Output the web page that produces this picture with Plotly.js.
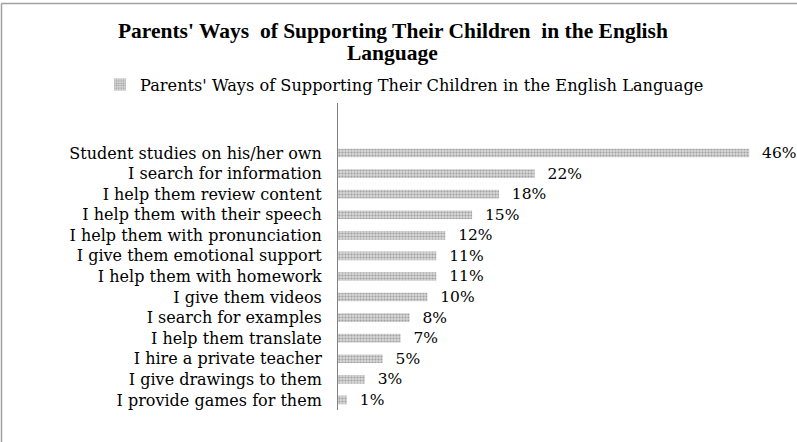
<!DOCTYPE html>
<html><head><meta charset="utf-8">
<script src="https://cdn.plot.ly/plotly-3.0.1.min.js"></script>
<style>html,body{margin:0;padding:0;background:#fff}#c{width:797px;height:442px}</style>
</head><body><div id="c"></div>
<script>
const categories = [
  "Student studies on his/her own",
  "I search for information",
  "I help them review content",
  "I help them with their speech",
  "I help them with pronunciation",
  "I give them emotional support",
  "I help them with homework",
  "I give them videos",
  "I search for examples",
  "I help them translate",
  "I hire a private teacher",
  "I give drawings to them",
  "I provide games for them"
];
const values = [46, 22, 18, 15, 12, 11, 11, 10, 8, 7, 5, 3, 1];
const seriesName = "Parents' Ways of Supporting Their Children in the English Language";
const titleLine1 = "Parents' Ways  of Supporting Their Children  in the English";
const titleLine2 = "Language";

const W = 797, H = 442;
const ml = 338, mr = 12, mt = 103, mb = 32;
const pw = W - ml - mr, ph = H - mt - mb;
const px = x => (x - ml) / pw;
const py = y => 1 - (y - mt) / ph;

const yCats = categories.slice().reverse();
const yVals = values.slice().reverse();
const serif = 'DejaVu Serif';

const trace = {
  type: 'bar', orientation: 'h',
  x: yVals, y: yCats, name: seriesName,
  width: 0.42,
  marker: {color: '#d0d0d0', line: {width: 0},
    pattern: {shape: '.', fgcolor: '#a0a0a0', bgcolor: '#d8d8d8', size: 3, solidity: 0.4}},
  texttemplate: '\u00a0\u00a0%{x}%', textposition: 'outside', cliponaxis: false, constraintext: 'none',
  textfont: {family: serif, size: 15.5, color: '#000'},
  showlegend: true, hoverinfo: 'none'
};

const layout = {
  width: W, height: H,
  margin: {l: ml, r: mr, t: mt, b: mb},
  paper_bgcolor: '#fff', plot_bgcolor: '#fff',
  font: {family: serif, color: '#000'},
  title: {text: titleLine1, font: {family: 'Liberation Serif', size: 21.5, color: '#000', weight: 'bold'},
    x: 0.493, xref: 'container', xanchor: 'center', y: 1 - 30 / H, yref: 'container', yanchor: 'middle'},
  annotations: [
    {text: titleLine2, xref: 'paper', yref: 'paper', x: px(392), y: py(53), xanchor: 'center', yanchor: 'middle',
      showarrow: false, font: {family: 'Liberation Serif', size: 21.5, color: '#000', weight: 'bold'}}
  ],
  showlegend: true,
  legend: {orientation: 'h', x: 100 / W, xref: 'container', xanchor: 'left', y: 1 - 85 / H, yref: 'container', yanchor: 'middle',
    font: {family: serif, size: 16.2, color: '#000'}, itemwidth: 30},
  xaxis: {range: [0, 50], showgrid: false, zeroline: false, showline: false, showticklabels: false, ticks: ''},
  yaxis: {type: 'category', range: [-0.49, 14.43], showgrid: false, zeroline: false,
    showline: true, linecolor: '#808080', linewidth: 1, ticks: '', ticklabelstandoff: 12,
    tickfont: {family: serif, size: 16, color: '#000'}},
  shapes: [
    {type: 'line', xref: 'paper', yref: 'paper', x0: px(1.5), x1: px(1.5), y0: py(3.5), y1: py(H + 5), line: {color: '#a0a0a0', width: 1.5}},
    {type: 'line', xref: 'paper', yref: 'paper', x0: px(1.5), x1: px(W + 5), y0: py(3.5), y1: py(3.5), line: {color: '#a0a0a0', width: 1.5}}
  ]
};
Plotly.newPlot('c', [trace], layout, {staticPlot: true});
</script></body></html>
